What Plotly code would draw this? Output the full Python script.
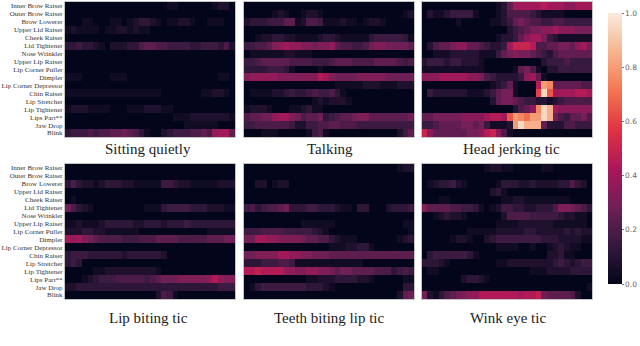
import plotly.graph_objects as go

W, H = 640, 346
action_units = ["Inner Brow Raiser", "Outer Brow Raiser", "Brow Lowerer", "Upper Lid Raiser", "Cheek Raiser",
                "Lid Tightener", "Nose Wrinkler", "Upper Lip Raiser", "Lip Corner Puller", "Dimpler",
                "Lip Corner Depressor", "Chin Raiser", "Lip Stretcher", "Lip Tightener", "Lips Part**",
                "Jaw Drop", "Blink"]
titles = ["Sitting quietly", "Talking", "Head jerking tic", "Lip biting tic", "Teeth biting lip tic", "Wink eye tic"]

# Each character is one cell: a base-36 digit, multiplied by the panel's step below.
sitting = """00000 00000 00000 00011 00000 01220
00000 00000 00000 00000 00000 00000
00011 00011 01233 21011 22100 11100
12111 10112 21211 00000 00000 00000
00000 00000 00000 00000 00000 00000
33433 21022 23356 65544 44334 44352
00000 00000 00000 00000 00000 00000
00000 00000 00000 00000 00000 00000
00000 00000 00000 00000 00000 00000
11100 00011 10000 00000 00000 00110
00000 00000 00000 00000 00000 00000
11111 11111 11111 11000 00001 12210
00000 00000 00000 00000 00000 00000
12221 11100 01112 22110 00000 00000
00000 00000 00000 00001 11222 22221
00000 00000 00000 00000 01111 11000
34445 45566 76531 00234 44556 59aa6"""
talking = """00000 00000 00000 00000 00000 00000
00000 12100 12210 00000 00000 00012
23334 44661 25541 11211 01221 00000
00000 00000 00000 00000 00000 00000
00122 33221 11123 32111 11344 44431
44556 89a99 88788 96554 45788 77776
01111 11221 11000 00000 00000 00000
44566 66655 55444 56665 55566 66545
33334 44310 00010 00000 00000 00000
89999 98888 888ba 87777 88888 77777
00000 00000 00000 01111 12221 11222
01111 22343 34544 53100 00000 00000
00000 00000 00121 22210 00000 00000
12221 00011 23110 00000 00000 00000
56677 9aa87 56673 45667 88666 66667
44555 55542 24455 66555 44444 44444
00011 10000 01451 00000 00000 00246"""
head_jerking = """00000 00000 00012 58888 89888 77888
02112 33331 00012 44443 21111 00000
00000 01000 00112 35654 43344 33333
00000 00000 00000 23456 67787 77666
00000 00000 00012 23578 86321 11111
02455 67755 43223 8aaa9 44556 65786
00111 22222 11135 67665 43245 55555
23332 33222 10000 00000 02333 43333
11111 11111 10000 01564 10223 33333
77788 88877 64322 22378 51000 00000
00000 00000 00123 51000 9gf55 55544
03222 22211 12356 61000 cjd88 88998
00000 00000 00256 65433 22123 44444
00000 00000 00000 02457 fjh87 77777
55666 66777 78998 dgfeg gjh64 35564
33455 55665 63111 2gjhh h5222 44333
a7555 55566 79a74 10000 00000 00000"""
lip_biting = """00000 00000 00000 00000 00000 00000
00000 00000 00000 00000 00000 00000
35322 12333 22111 11443 22111 11222
00000 00000 00000 00000 00000 00000
01000 00000 00000 00000 00000 00000
75321 00000 00001 11344 44333 22211
00000 00000 00000 00000 00000 00000
11211 12333 33223 33233 34333 33333
22233 22111 11100 00000 00000 11111
a9a87 65555 44455 56666 55555 66677
00000 00000 00000 00000 00000 00000
34443 33333 23333 33200 00000 00000
34300 00000 00000 00000 00000 00000
00000 11222 22222 21000 00000 00000
00012 34445 55554 56777 88888 9b988
22333 33333 33333 33333 33333 33444
00000 00000 00000 02541 00000 00000"""
teeth_biting = """00000 00000 00000 00000 00000 00122
00000 00000 00000 00000 00000 00000
00220 12200 00000 00000 00000 00000
00000 00000 00000 00000 00000 00000
00000 00000 00000 00000 00000 00000
45345 56733 34433 32110 33000 23334
00000 00000 00000 00000 00000 00000
00000 00000 11111 10000 00000 00011
44455 55444 44321 00000 00000 00001
77aa9 98888 76655 32111 00000 00123
00000 00000 00000 11122 33100 00000
77888 8aa99 88777 66666 66666 66666
33344 45541 11111 11111 10000 00000
bbcbb bb998 89988 76776 66655 53454
00000 00000 01122 23333 22100 00011
01344 44444 43332 10000 00000 00033
00000 00000 00000 00000 00000 00267"""
wink = """00000 00000 01221 10000 01100 00000
00000 00000 00000 00000 00000 00000
01233 42100 00013 33223 22223 35320
00000 00000 00231 00000 00000 00000
00011 00000 00001 12211 11111 10000
86666 55443 10124 43322 33358 87653
00123 22100 00002 55554 44443 22110
00000 00000 00011 11222 22211 11110
00000 00011 11122 22233 22222 32322
00000 12210 02344 44444 43332 22211
00000 00000 00011 11001 00123 21100
03444 44431 00000 00000 00223 11000
33321 00000 00011 22222 22234 32344
01100 00000 00000 00001 11222 23333
00000 00233 21000 00000 00000 00000
00000 00000 00000 00000 00000 00001
72135 67899 bbbbb bbabb c7666 65200"""
panels = [sitting, talking, head_jerking, lip_biting, teeth_biting, wink]
steps = [0.04, 0.04, 0.05, 0.04, 0.04, 0.04]

rocket = [[0, "#03051a"], [0.143, "#35193e"], [0.286, "#701f57"], [0.429, "#ad1759"],
          [0.571, "#e13342"], [0.714, "#f37651"], [0.857, "#f6b48f"], [1, "#faebdd"]]


def decode(block, step):
    return [[int(c, 36) * step for c in line.replace(" ", "")] for line in block.splitlines()]


x_ranges = [(65, 235), (244, 414), (421.5, 592)]
y_ranges = [(2, 137), (164, 299)]
title_x = [148, 330, 511.5, 148, 329, 508]
title_y = [149, 318]

fig = go.Figure()
layout = dict(
    width=W, height=H, margin=dict(l=0, r=0, t=0, b=0), paper_bgcolor="white", plot_bgcolor="white",
    font=dict(family="Liberation Serif", color="#222"), showlegend=False,
    coloraxis=dict(cmin=0, cmax=1, colorscale=rocket, colorbar=dict(
        x=608 / W, xanchor="left", xpad=0, y=1 - 13 / H, yanchor="top", ypad=0,
        thickness=14, thicknessmode="pixels", len=271, lenmode="pixels",
        tickvals=[0, 0.2, 0.4, 0.6, 0.8, 1.0], ticktext=["0.0", "0.2", "0.4", "0.6", "0.8", "1.0"],
        ticks="outside", ticklen=2, tickwidth=1, tickcolor="#777", outlinewidth=0,
        tickfont=dict(family="DejaVu Sans", size=7.5, color="#666"))),
    annotations=[],
)
for i, block in enumerate(panels):
    col, row = i % 3, i // 3
    n = i + 1
    fig.add_trace(go.Heatmap(z=decode(block, steps[i]), y=action_units, coloraxis="coloraxis",
                             xaxis=f"x{n}", yaxis=f"y{n}", hovertemplate="%{y}: %{z}<extra></extra>"))
    x0, x1 = x_ranges[col]
    y0, y1 = y_ranges[row]
    layout[f"xaxis{n}"] = dict(domain=[x0 / W, x1 / W], anchor=f"y{n}", showticklabels=False, ticks="",
                               showgrid=False, zeroline=False, showline=True, mirror=True,
                               linecolor="#c4c4c4", linewidth=1, range=[-0.5, 29.5])
    layout[f"yaxis{n}"] = dict(domain=[1 - y1 / H, 1 - y0 / H], anchor=f"x{n}", autorange="reversed",
                               showticklabels=col == 0, ticks="", ticklen=0, tickmode="array",
                               tickvals=action_units, showgrid=False, zeroline=False, showline=True, mirror=True,
                               linecolor="#c4c4c4", linewidth=1, automargin=False,
                               tickfont=dict(family="Liberation Serif", size=7, color="#333"))
    layout["annotations"].append(dict(text=titles[i], x=title_x[i] / W, y=1 - title_y[row] / H,
                                      xref="paper", yref="paper", showarrow=False, xanchor="center", yanchor="middle",
                                      font=dict(family="Liberation Serif", size=15, color="#222")))
fig.update_layout(**layout)
fig.write_html("out.html", config={"displayModeBar": False},
               post_script="document.body.style.margin='0';document.documentElement.style.overflow='hidden';")
